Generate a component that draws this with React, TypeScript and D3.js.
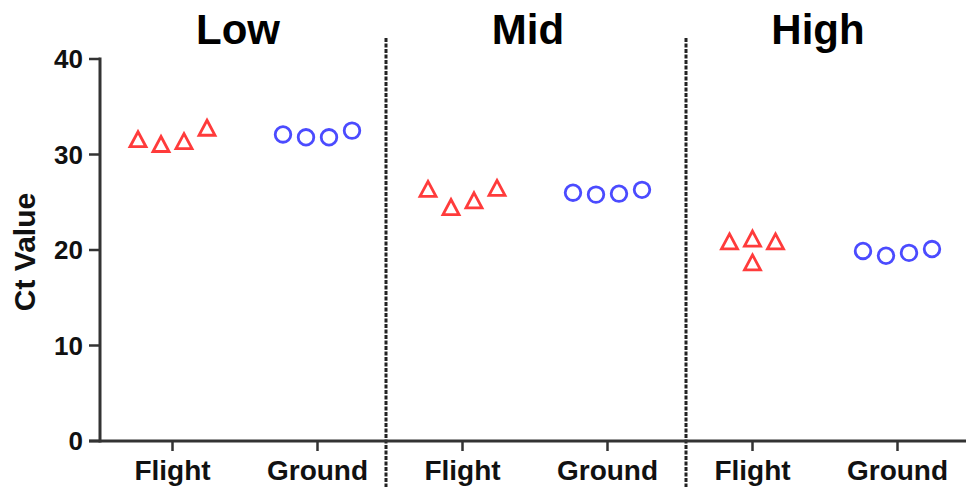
import React from "react";
import * as d3 from "d3";

const groups = ["Low", "Mid", "High"];
const conditions = ["Flight", "Ground"];
const yTicks = [0, 10, 20, 30, 40];

// Ct values (4 replicates each)
const lowFlight = [31.6, 31.1, 31.4, 32.8];
const lowGround = [32.1, 31.8, 31.8, 32.5];
const midFlight = [26.4, 24.5, 25.2, 26.5];
const midGround = [26.0, 25.8, 25.9, 26.3];
const highFlight = [20.9, 18.7, 21.2, 20.9];
const highGround = [19.9, 19.4, 19.7, 20.1];

// horizontal scatter slot of each replicate
const slotsSpread = [-1.5, -0.5, 0.5, 1.5];
const slotsHighFlight = [-1, 0, 0, 1];

const seriesValues = [
  [lowFlight, lowGround],
  [midFlight, midGround],
  [highFlight, highGround],
];

const W = 966;
const H = 487;
const FONT = "'Liberation Sans', Arial, Helvetica, sans-serif";
const RED = "#ff3b3b";
const BLUE = "#4b4bff";
const AXIS = "#333";

export default function App() {
  const left = 100;
  const bottom = 441;
  const top = 59;
  const y = d3.scaleLinear().domain([0, 40]).range([bottom, top]);
  const cats = groups.flatMap((g) => conditions.map((c) => `${g}-${c}`));
  const x = d3.scaleBand<string>().domain(cats).range([left, 970]).padding(0);
  const bw = x.bandwidth();
  const slotW = 23;

  const tri = "M0,-7.5 L8,7.5 L-8,7.5 Z";

  const points: { cx: number; cy: number; cond: string; key: string }[] = [];
  groups.forEach((g, gi) => {
    conditions.forEach((c, ci) => {
      const vals = seriesValues[gi][ci];
      const slots = g === "High" && c === "Flight" ? slotsHighFlight : slotsSpread;
      const center = (x(`${g}-${c}`) as number) + bw / 2;
      vals.forEach((v, i) => {
        points.push({ cx: center + slots[i] * slotW, cy: y(v), cond: c, key: `${g}-${c}-${i}` });
      });
    });
  });

  const dividers = [x("Mid-Flight") as number, x("High-Flight") as number];
  const dividerAdj = [-4, 6];

  return (
    <div style={{ position: "absolute", left: 0, top: 0 }}>
      <svg width={W} height={H} style={{ display: "block", background: "#fff" }}>
        {/* group titles */}
        {groups.map((g) => {
          const cx = ((x(`${g}-Flight`) as number) + (x(`${g}-Ground`) as number) + bw) / 2 - 7;
          return (
            <text key={g} x={cx} y={44} textAnchor="middle" fontFamily={FONT} fontWeight="bold" fontSize={42} fill="#000">
              {g}
            </text>
          );
        })}

        {/* dividers */}
        {dividers.map((d, i) => (
          <line key={i} x1={d + dividerAdj[i]} x2={d + dividerAdj[i]} y1={38} y2={H} stroke="#222" strokeWidth={3} strokeDasharray="4,1.5" />
        ))}

        {/* y axis */}
        <line x1={left} x2={left} y1={top - 1.5} y2={bottom + 1.5} stroke={AXIS} strokeWidth={3} />
        {yTicks.map((t) => (
          <g key={t}>
            <line x1={left - 11} x2={left} y1={y(t)} y2={y(t)} stroke={AXIS} strokeWidth={2.5} />
            <text x={left - 17} y={y(t)} dy="0.35em" textAnchor="end" fontFamily={FONT} fontWeight="bold" fontSize={26} fill="#111">
              {t}
            </text>
          </g>
        ))}
        <text
          transform={`translate(35,252) rotate(-90)`}
          textAnchor="middle"
          fontFamily={FONT}
          fontWeight="bold"
          fontSize={30}
          fill="#111"
        >
          Ct Value
        </text>

        {/* x axis */}
        <line x1={left - 11} x2={W} y1={bottom} y2={bottom} stroke={AXIS} strokeWidth={3} />
        {cats.map((c) => {
          const cx = (x(c) as number) + bw / 2;
          return (
            <g key={c}>
              <line x1={cx} x2={cx} y1={bottom} y2={bottom + 10} stroke={AXIS} strokeWidth={2.5} />
              <text x={cx} y={480} textAnchor="middle" fontFamily={FONT} fontWeight="bold" fontSize={28} fill="#111">
                {c.split("-")[1]}
              </text>
            </g>
          );
        })}

        {/* points */}
        {points.map((p) =>
          p.cond === "Flight" ? (
            <path key={p.key} d={tri} transform={`translate(${p.cx},${p.cy})`} fill="none" stroke={RED} strokeWidth={2.8} strokeLinejoin="miter" />
          ) : (
            <circle key={p.key} cx={p.cx} cy={p.cy} r={7.8} fill="none" stroke={BLUE} strokeWidth={2.8} />
          )
        )}
      </svg>
    </div>
  );
}
